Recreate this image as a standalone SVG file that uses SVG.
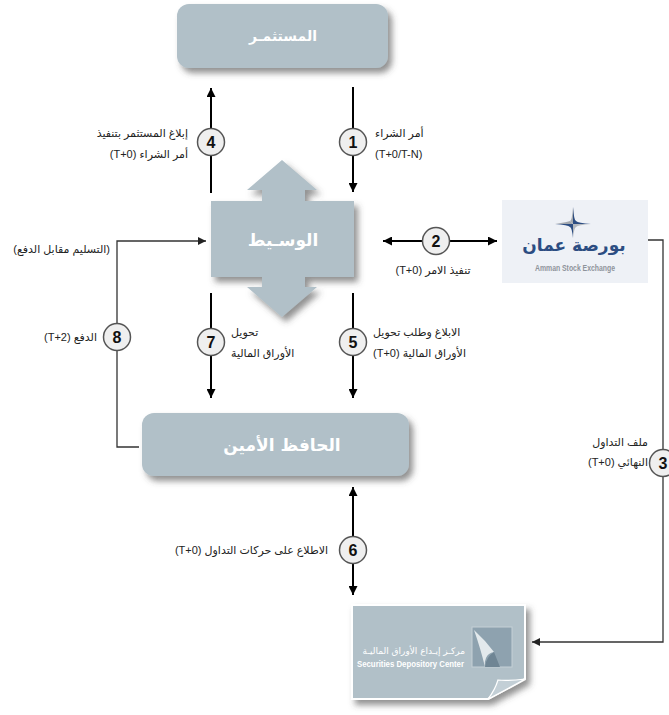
<svg xmlns="http://www.w3.org/2000/svg" width="669" height="715" viewBox="0 0 669 715">
<style>
.node{fill:#b1c0c8}
.title{fill:#ffffff;font-family:"DejaVu Sans",sans-serif;font-weight:bold;font-size:17px;text-anchor:middle;direction:rtl}
.lbl{fill:#222222;font-family:"Liberation Sans","DejaVu Sans",sans-serif;font-size:11px;direction:rtl}
.r{text-anchor:start}
.l{text-anchor:end}
.c{text-anchor:middle}
.num circle{fill:#efefef;stroke:#555555;stroke-width:1.5}
.num text{fill:#111111;font-family:"Liberation Sans","DejaVu Sans",sans-serif;font-weight:bold;font-size:16px;text-anchor:middle}
.flow{stroke:#000000;stroke-width:2;fill:none}
.link{stroke:#333333;stroke-width:1.3;fill:none}
</style>
<defs>
<filter id="sh" x="-10%" y="-20%" width="130%" height="150%">
<feDropShadow dx="4" dy="5" stdDeviation="3" flood-color="#4a4a4a" flood-opacity="0.6"/>
</filter>
<marker id="ah" viewBox="0 0 10 10" refX="10" refY="5" markerUnits="userSpaceOnUse" markerWidth="9" markerHeight="9" orient="auto-start-reverse">
<path d="M0,0 L10,5 L0,10 z" fill="#000000"/>
</marker>
<marker id="ah2" viewBox="0 0 10 10" refX="10" refY="5" markerUnits="userSpaceOnUse" markerWidth="8" markerHeight="8" orient="auto-start-reverse">
<path d="M0,0 L10,5 L0,10 z" fill="#222222"/>
</marker>
</defs>

<g id="connectors">
<line class="flow" x1="211" y1="193" x2="211" y2="88" marker-end="url(#ah)"/>
<line class="flow" x1="353" y1="87" x2="353" y2="192" marker-end="url(#ah)"/>
<line class="flow" x1="383" y1="241" x2="497" y2="241" marker-start="url(#ah)" marker-end="url(#ah)"/>
<line class="flow" x1="211" y1="293" x2="211" y2="398" marker-end="url(#ah)"/>
<line class="flow" x1="353" y1="293" x2="353" y2="398" marker-end="url(#ah)"/>
<line class="flow" x1="353" y1="487" x2="353" y2="595" marker-start="url(#ah)" marker-end="url(#ah)"/>
<path class="link" d="M139,447 H117 V241 H206" marker-end="url(#ah2)"/>
<path class="link" d="M648,240 H663 V642 H532" marker-end="url(#ah2)"/>
</g>

<g id="investor">
<rect class="node" x="177" y="4" width="211" height="64" rx="12" filter="url(#sh)"/>
<text class="title" x="283" y="41" style="font-size:14px">المستثمـر</text>
</g>

<g id="broker">
<path class="node" filter="url(#sh)" d="M211,201 H262 V190 H247 L282,160 L317,190 H305 V201 H354 V277 H305 V287 H317 L282,317 L247,287 H262 V277 H211 Z"/>
<text class="title" x="283" y="246">الوسـيط</text>
</g>

<g id="custodian">
<rect class="node" x="142" y="413" width="267" height="63" rx="12" filter="url(#sh)"/>
<text class="title" x="282" y="451">الحافظ الأمين</text>
</g>

<g id="exchange">
<rect x="502" y="200" width="146" height="83" fill="#eef1f6"/>
<path d="M573,207 Q574,221 576,221 L573,224 Z M573,224 L555,224 Q568,222 570,221 Z" fill="#a3a8ae"/>
<path d="M573,207 Q572,221 570,221 L573,224 Z" fill="#a3a8ae"/>
<path d="M573,207 Q574,221 576,221 L573,224 Z M573,224 L576,221 Q578,223 591,224 Z" fill="#2c4d82"/>
<path d="M573,224 L591,224 Q578,225 576,227 Z M573,224 L576,227 Q574,228 573,238 Z" fill="#b3b8be"/>
<path d="M573,224 L573,238 Q572,228 570,227 Z M573,224 L570,227 Q568,225 555,224 Z" fill="#2c4d82"/>
<text x="574" y="251" font-family="DejaVu Sans,sans-serif" font-weight="bold" font-size="17" fill="#2c4d82" text-anchor="middle" direction="rtl">بورصة عمان</text>
<text x="535" y="271" font-family="Liberation Sans,sans-serif" font-weight="bold" font-size="9" fill="#8e949b" textLength="80" lengthAdjust="spacingAndGlyphs">Amman Stock Exchange</text>
</g>

<g id="sdc">
<path class="node" filter="url(#sh)" stroke="#ffffff" stroke-width="2" d="M352,605 H525 V679 Q505,690 488,699 H352 Z"/>
<path d="M525,679 Q508,681 498,680 Q495,690 488,699 Q506,690 525,679 Z" fill="#c3cfd6" stroke="#ffffff" stroke-width="1.2"/>
<rect x="472" y="627" width="40" height="40" fill="#8ea2af" stroke="#c5d0d6" stroke-width="1"/>
<path d="M474,630 Q485,640 494,652 Q488,653 486,658 Q484,662 485,667 Q481,650 474,630 Z" fill="#e3e9ec"/>
<path d="M485,667 Q486,657 494,652 Q498,662 500,667 Z" fill="#6f8594"/>
<text x="465" y="654" font-family="DejaVu Sans,sans-serif" font-size="9" fill="#ffffff" text-anchor="start" direction="rtl">مركـز إيـداع الأوراق الماليـة</text>
<text x="357" y="667" font-family="Liberation Sans,sans-serif" font-weight="bold" font-size="9" fill="#ffffff" textLength="107" lengthAdjust="spacingAndGlyphs">Securities Depository Center</text>
</g>

<g id="step1" class="num"><circle cx="353" cy="142" r="13.5"/><text x="353" y="148">1</text></g>
<g id="step2" class="num"><circle cx="436" cy="241" r="13.5"/><text x="436" y="247">2</text></g>
<g id="step3" class="num"><circle cx="663" cy="463" r="13.5"/><text x="663" y="469">3</text></g>
<g id="step4" class="num"><circle cx="211" cy="142" r="13.5"/><text x="211" y="148">4</text></g>
<g id="step5" class="num"><circle cx="353" cy="342" r="13.5"/><text x="353" y="348">5</text></g>
<g id="step6" class="num"><circle cx="353" cy="550" r="13.5"/><text x="353" y="556">6</text></g>
<g id="step7" class="num"><circle cx="211" cy="342" r="13.5"/><text x="211" y="348">7</text></g>
<g id="step8" class="num"><circle cx="117" cy="337" r="13.5"/><text x="117" y="343">8</text></g>

<g id="labels">
<text class="lbl r" x="188" y="137">إبلاغ المستثمر بتنفيذ</text>
<text class="lbl r" x="188" y="158">أمر الشراء (T+0)</text>
<text class="lbl l" x="375" y="137">أمر الشراء</text>
<text class="lbl" x="375" y="158" style="direction:ltr">(T+0/T-N)</text>
<text class="lbl c" x="433" y="274">تنفيذ الامر (T+0)</text>
<text class="lbl r" x="110" y="253">(التسليم مقابل الدفع)</text>
<text class="lbl r" x="97" y="341">الدفع (T+2)</text>
<text class="lbl l" x="231" y="336">تحويل</text>
<text class="lbl l" x="231" y="357">الأوراق المالية</text>
<text class="lbl l" x="373" y="336">الابلاغ وطلب تحويل</text>
<text class="lbl l" x="373" y="357">الأوراق المالية (T+0)</text>
<text class="lbl r" x="648" y="446">ملف التداول</text>
<text class="lbl r" x="648" y="466">النهائي (T+0)</text>
<text class="lbl r" x="328" y="554">الاطلاع على حركات التداول (T+0)</text>
</g>
</svg>
